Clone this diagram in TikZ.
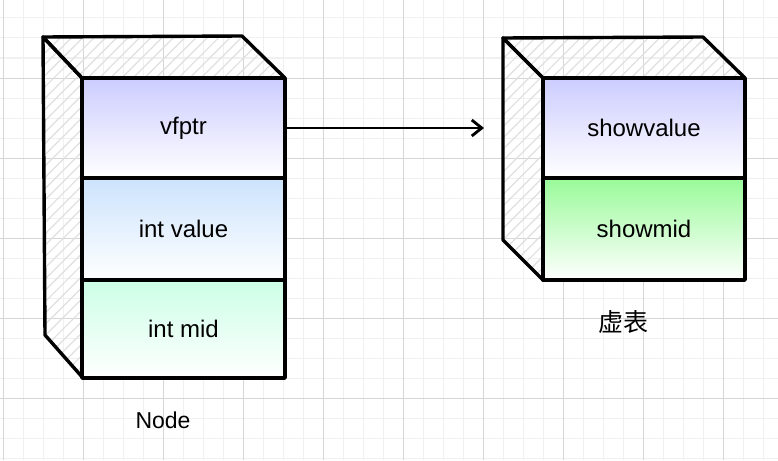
\documentclass[tikz,border=0pt]{standalone}
\usepackage{fontspec}
\setmainfont{Liberation Sans}
\newfontfamily\cjkfont{Noto Sans CJK SC}
\usetikzlibrary{arrows.meta,patterns.meta}
\definecolor{minorgrid}{HTML}{F0F0F0}
\definecolor{majorgrid}{HTML}{D6D6D6}
\definecolor{purp}{HTML}{CCCCFF}
\definecolor{lblue}{HTML}{CCE3FC}
\definecolor{lgreen}{HTML}{CCFFE6}
\definecolor{bgreen}{HTML}{99FA99}
\tikzset{
  edge/.style={line width=3.4pt, line join=round, line cap=round},
  hatchface/.style={edge, pattern={Lines[angle=45,distance=8pt,line width=1.2pt]}, pattern color=black!12},
  cell/.style={edge, draw, rectangle, minimum width=203pt, inner sep=0pt, font=\fontsize{24}{28}\selectfont, bottom color=white},
  caption/.style={font=\fontsize{23}{27}\selectfont},
  link/.style={line width=2.8pt, -{Straight Barb[length=10pt,width=16pt,line width=2.8pt]}}
}
\begin{document}
\begin{tikzpicture}[x=1pt,y=-1pt]
\useasboundingbox (0,0) rectangle (778,460);
\fill[white] (0,0) rectangle (778,460);
% grid
\foreach \gx in {3,23,...,778} \draw[minorgrid, line width=1pt] (\gx,0) -- (\gx,460);
\foreach \gy in {18,38,...,460} \draw[minorgrid, line width=1pt] (0,\gy) -- (778,\gy);
\foreach \gx in {3,83,...,778} \draw[majorgrid, line width=1pt] (\gx,0) -- (\gx,460);
\foreach \gy in {78,158,...,460} \draw[majorgrid, line width=1pt] (0,\gy) -- (778,\gy);

% left box (Node)
\draw[hatchface] (43,37) -- (242,36) -- (285,78) -- (82,78) -- cycle;
\draw[hatchface] (43,37) -- (82,78) -- (83,378) -- (45,335) -- cycle;
\node[cell, minimum height=100pt, top color=purp] (vf) at (183.5,128) {vfptr};
\node[cell, minimum height=102pt, top color=lblue] (iv) at (183.5,229) {int value};
\node[cell, minimum height=98pt, top color=lgreen] (im) at (183.5,329) {int mid};
\node[caption] (nodelbl) at (163,420) {Node};

% right box (vtable)
\draw[hatchface] (503,38) -- (703,37) -- (745,78) -- (543,78) -- cycle;
\draw[hatchface] (503,38) -- (543,78) -- (543,280) -- (503,240) -- cycle;
\node[cell, minimum height=100pt, minimum width=202pt, top color=purp] (sv) at (644,128) {showvalue};
\node[cell, minimum height=102pt, minimum width=202pt, top color=bgreen] (sm) at (644,229) {showmid};
\node[caption, font=\cjkfont\fontsize{25}{29}\selectfont] (vtlbl) at (623,322) {虚表};

% arrow
\coordinate (tip) at (484,128);
\draw[link] (vf.east) -- (tip);
\end{tikzpicture}
\end{document}
